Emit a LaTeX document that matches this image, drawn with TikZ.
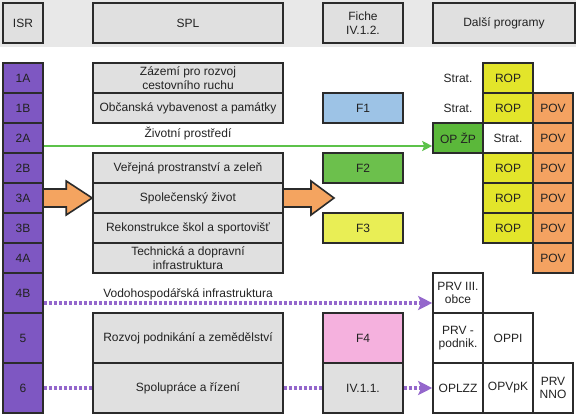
\documentclass[tikz,border=0pt]{standalone}
\usepackage{fontspec}
\setmainfont{Liberation Sans}
\usetikzlibrary{calc,arrows.meta,backgrounds}
\definecolor{bandc}{HTML}{E8E8E8}
\definecolor{boxg}{HTML}{E0E0E0}
\definecolor{isrc}{HTML}{7E57C2}
\definecolor{bordc}{HTML}{2B2B2B}
\definecolor{txtc}{HTML}{222222}
\definecolor{f1c}{HTML}{9DC3E6}
\definecolor{f2c}{HTML}{6CC04C}
\definecolor{f3c}{HTML}{E9EE55}
\definecolor{ropc}{HTML}{E3E52A}
\definecolor{povc}{HTML}{F4A261}
\definecolor{opzpc}{HTML}{5BB83A}
\definecolor{f4c}{HTML}{F5B1DE}
\definecolor{glinec}{HTML}{5CC24A}
\definecolor{orangec}{HTML}{F4A460}
\definecolor{pdotc}{HTML}{9467CC}
\begin{document}
\begin{tikzpicture}[x=1pt,y=-1pt,
  font=\fontsize{12}{13.5}\selectfont,
  box/.style={draw=bordc, line width=1.6pt, inner sep=0pt, align=center, text=txtc},
  hdr/.style={box, fill=boxg, minimum height=40pt},
  isr/.style={box, fill=isrc, minimum width=40pt, minimum height=30pt},
  spl/.style={box, fill=boxg, minimum width=190pt, minimum height=30pt},
  fiche/.style={box, minimum width=80pt, minimum height=30pt},
  prog/.style={box, minimum width=50pt, minimum height=30pt},
  progn/.style={box, minimum width=40pt, minimum height=30pt},
  plain/.style={inner sep=0pt, align=center, text=txtc},
  tall/.style={minimum height=50pt},
  mid/.style={minimum height=40pt},
  garrow/.style={draw=glinec, line width=2pt, -{Stealth[length=10pt,width=10pt,inset=2pt]}},
  pdot/.style={draw=pdotc, line width=3.5pt, dash pattern=on 3pt off 2pt},
  parrow/.style={pdot, -{Stealth[length=14pt,width=14pt,inset=3pt]}},
  blockarrow/.style={fill=orangec, draw=bordc, line width=1.6pt, line join=miter}
]
\useasboundingbox (0,0) rectangle (576,416);

% header
\node[hdr, minimum width=40pt] (hisr) at (23,23) {ISR};
\node[hdr, minimum width=190pt] (hspl) at (188,23) {SPL};
\node[hdr, minimum width=80pt] (hfiche) at (363,23) {Fiche\\IV.1.2.};
\node[hdr, minimum width=142pt] (hprog) at (504,23) {Další programy};

% ISR column
\node[isr] (i1a) at (23,78) {1A};
\node[isr] (i1b) at (23,108) {1B};
\node[isr] (i2a) at (23,138) {2A};
\node[isr] (i2b) at (23,168) {2B};
\node[isr] (i3a) at (23,198) {3A};
\node[isr] (i3b) at (23,228) {3B};
\node[isr] (i4a) at (23,258) {4A};
\node[isr, mid] (i4b) at (23,293) {4B};
\node[isr, tall] (i5) at (23,338) {5};
\node[isr, tall] (i6) at (23,388) {6};

% SPL column
\node[spl] (s1a) at (188,78) {Zázemí pro rozvoj\\cestovního ruchu};
\node[spl] (s1b) at (188,108) {Občanská vybavenost a památky};
\node[plain] (t2a) at (188,133) {Životní prostředí};
\node[spl] (s2b) at (188,168) {Veřejná prostranství a zeleň};
\node[spl] (s3a) at (188,198) {Společenský život};
\node[spl] (s3b) at (188,228) {Rekonstrukce škol a sportovišť};
\node[spl] (s4a) at (188,258) {Technická a dopravní\\infrastruktura};
\node[plain] (t4b) at (188,294) {Vodohospodářská infrastruktura};
\node[spl, tall] (s5) at (188,338) {Rozvoj podnikání a zemědělství};
\node[spl, tall] (s6) at (188,388) {Spolupráce a řízení};

% Fiche column
\node[fiche, fill=f1c] (f1) at (363,108) {F1};
\node[fiche, fill=f2c] (f2) at (363,168) {F2};
\node[fiche, fill=f3c] (f3) at (363,228) {F3};
\node[fiche, fill=f4c, tall] (f4) at (363,338) {F4};
\node[fiche, fill=boxg, tall] (f6) at (363,388) {IV.1.1.};

% Dalsi programy
\node[plain] (st1) at (458,78) {Strat.};
\node[prog, fill=ropc] (rop1) at (508,78) {ROP};
\node[plain] (st2) at (458,108) {Strat.};
\node[prog, fill=ropc] (rop2) at (508,108) {ROP};
\node[progn, fill=povc] (pov2) at (553,108) {POV};
\node[prog, fill=opzpc] (opzp) at (458,138) {OP ŽP};
\node[prog, fill=white] (st3) at (508,138) {Strat.};
\node[progn, fill=povc] (pov3) at (553,138) {POV};
\node[prog, fill=ropc] (rop4) at (508,168) {ROP};
\node[progn, fill=povc] (pov4) at (553,168) {POV};
\node[prog, fill=ropc] (rop5) at (508,198) {ROP};
\node[progn, fill=povc] (pov5) at (553,198) {POV};
\node[prog, fill=ropc] (rop6) at (508,228) {ROP};
\node[progn, fill=povc] (pov6) at (553,228) {POV};
\node[progn, fill=povc] (pov7) at (553,258) {POV};
\node[prog, fill=white, mid] (prv1) at (458,293) {PRV III.\\obce};
\node[prog, fill=white, tall] (prv2) at (458,338) {PRV -\\podnik.};
\node[prog, fill=white, tall] (oppi) at (508,338) {OPPI};
\node[prog, fill=white, tall] (oplzz) at (458,388) {OPLZZ};
\node[prog, fill=white, tall] (opvpk) at (508,388) {OPVpK};
\node[progn, fill=white, tall] (prvnno) at (553,388) {PRV\\NNO};

\coordinate (oatip) at (334,198);

\begin{scope}[on background layer]
  \fill[bandc] (0,0) rectangle (576,47);
  % orange block arrows
  \filldraw[blockarrow] ($(i3a.east)+(0,-9)$) -- ($(s3a.west)+(-26,-9)$) -- ($(s3a.west)+(-26,-17)$) -- (s3a.west) -- ($(s3a.west)+(-26,17)$) -- ($(s3a.west)+(-26,9)$) -- ($(i3a.east)+(0,9)$);
  \filldraw[blockarrow] ($(s3a.east)+(0,-9)$) -- ($(oatip)+(-23,-9)$) -- ($(oatip)+(-23,-17)$) -- (oatip) -- ($(oatip)+(-23,17)$) -- ($(oatip)+(-23,9)$) -- ($(s3a.east)+(0,9)$);
  % connectors
  \draw[garrow] ($(i2a.east)+(0,8)$) -- ($(opzp.west)+(0,8)$);
  \draw[parrow] ($(i4b.east)+(0,10)$) -- ($(prv1.west)+(0,10)$);
  \draw[pdot] (i6.east) -- (s6.west);
  \draw[pdot] (s6.east) -- (f6.west);
  \draw[parrow] (f6.east) -- (oplzz.west);
\end{scope}
\end{tikzpicture}
\end{document}
